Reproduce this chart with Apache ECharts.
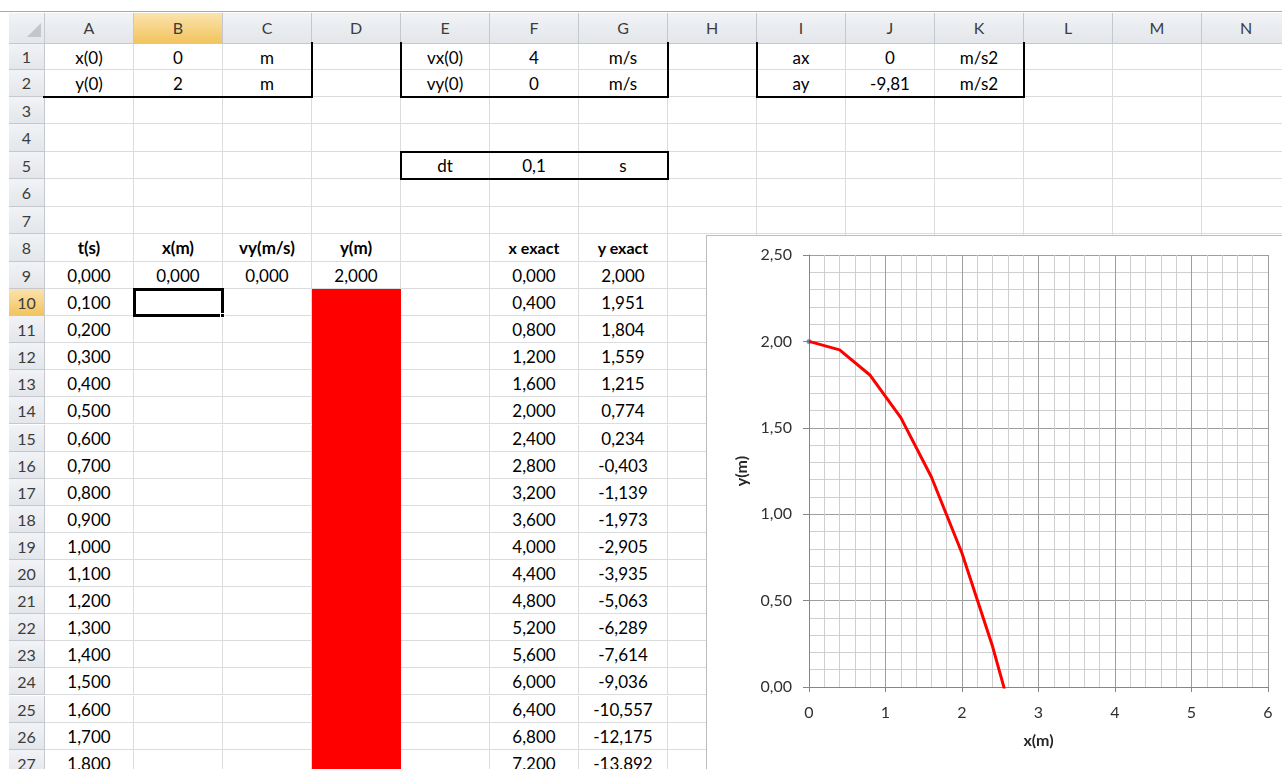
<!DOCTYPE html>
<html>
<head>
<meta charset="utf-8">
<script src="https://cdn.jsdelivr.net/npm/echarts@6/dist/echarts.min.js"></script>
<style>
  html, body { margin:0; padding:0; }
  body { width:1282px; height:769px; overflow:hidden; position:relative; background:#fff; font-family: Lato, "Open Sans", sans-serif; }
  .cell { position:absolute; box-sizing:border-box; border-right:1px solid #dadcdd; border-bottom:1px solid #dadcdd; text-align:center; color:#000; font-size:17px; white-space:nowrap; overflow:hidden; }
  .hdr { position:absolute; box-sizing:border-box; background:linear-gradient(#f1f3f6,#e3e6ea); border-right:1px solid #c5c9cf; border-bottom:1px solid #c5c9cf; text-align:center; color:#3c3c3c; font-size:16px; }
  .sel { background:linear-gradient(#fbe3ac,#f2c45f) !important; }
  .box { position:absolute; box-sizing:border-box; border:0 solid #000; }
  #chart { position:absolute; left:706px; top:235px; width:620px; height:580px; background:#fff; border:1px solid #bdbdbd; box-sizing:border-box; }
</style>
</head>
<body>
<div id="sheet"></div>
<div id="chart"></div>
<script>
// ---------- data ----------
const colLetters = ['A','B','C','D','E','F','G','H','I','J','K','L','M','N'];
const paramRow1 = ['x(0)', '0', 'm', '', 'vx(0)', '4', 'm/s', '', 'ax', '0', 'm/s2'];
const paramRow2 = ['y(0)', '2', 'm', '', 'vy(0)', '0', 'm/s', '', 'ay', '-9,81', 'm/s2'];
const dtRow = ['dt', '0,1', 's'];
const headerRow = ['t(s)', 'x(m)', 'vy(m/s)', 'y(m)', '', 'x exact', 'y exact'];
const tValues = [0.0, 0.1, 0.2, 0.3, 0.4, 0.5, 0.6, 0.7, 0.8, 0.9, 1.0, 1.1, 1.2, 1.3, 1.4, 1.5, 1.6, 1.7, 1.8];
const simX = [0.000];
const simVy = [0.000];
const simY = [2.000];
const xExact = [0.0, 0.4, 0.8, 1.2, 1.6, 2.0, 2.4, 2.8, 3.2, 3.6, 4.0, 4.4, 4.8, 5.2, 5.6, 6.0, 6.4, 6.8, 7.2];
const yExact = [2.000, 1.951, 1.804, 1.559, 1.215, 0.774, 0.234, -0.403, -1.139, -1.973, -2.905, -3.935, -5.063, -6.289, -7.614, -9.036, -10.557, -12.175, -13.892];
const xTicks = [0, 1, 2, 3, 4, 5, 6];
const yTicks = [0, 0.5, 1.0, 1.5, 2.0, 2.5];

// ---------- sheet ----------
const sheet = document.getElementById('sheet');
const COLW = 89, X0 = 45, Y0 = 43.5, HDR_TOP = 13;
const colLeft = c => X0 + COLW * c;
const rowTop = r => r <= 3 ? Y0 + (r - 1) * 26.75 : (r <= 10 ? 97 + (r - 3) * 27.43 : 289 + (r - 10) * 27.1);
const rowH = r => rowTop(r + 1) - rowTop(r);
const fmt3 = v => v.toFixed(3).replace('.', ',');
function el(cls, style, text) {
  const d = document.createElement('div');
  d.className = cls;
  Object.assign(d.style, style);
  if (text !== undefined) d.textContent = text;
  sheet.appendChild(d);
  return d;
}
el('box', {left:'0px', top:'11px', width:'1282px', height:'1px', background:'#a9a9a9'});
el('hdr', {left:'9px', top:HDR_TOP+'px', width:(X0-9)+'px', height:(Y0-HDR_TOP)+'px'});
el('box', {left:'27px', top:'23px', width:'0px', height:'0px', borderLeft:'14px solid transparent', borderBottom:'14px solid #c3c6cb'});
colLetters.forEach((L, c) => {
  el('hdr' + (L === 'B' ? ' sel' : ''), {left:colLeft(c)+'px', top:HDR_TOP+'px', width:COLW+'px', height:(Y0-HDR_TOP)+'px', lineHeight:(Y0-HDR_TOP)+'px'}, L);
});
const cellText = {};
function setCell(r, c, t, extra) { cellText[r + '_' + c] = {t, extra}; }
paramRow1.forEach((t, c) => setCell(1, c, t));
paramRow2.forEach((t, c) => setCell(2, c, t));
dtRow.forEach((t, i) => setCell(5, 4 + i, t));
headerRow.forEach((t, c) => setCell(8, c, t, {fontWeight:'bold', fontSize: c >= 5 ? '16px' : '17px'}));
tValues.forEach((t, i) => {
  const r = 9 + i;
  setCell(r, 0, fmt3(t));
  if (i < simX.length) setCell(r, 1, fmt3(simX[i]));
  if (i < simVy.length) setCell(r, 2, fmt3(simVy[i]));
  if (i < simY.length) setCell(r, 3, fmt3(simY[i]));
  setCell(r, 5, fmt3(xExact[i]));
  setCell(r, 6, fmt3(yExact[i]));
});
for (let r = 1; r <= 28; r++) {
  const top = rowTop(r), h = rowH(r);
  el('hdr' + (r === 10 ? ' sel' : ''), {left:'9px', top:top+'px', width:(X0-9)+'px', height:h+'px', lineHeight:h+'px'}, String(r));
  for (let c = 0; c < colLetters.length; c++) {
    const info = cellText[r + '_' + c];
    const st = {left:colLeft(c)+'px', top:top+'px', width:COLW+'px', height:h+'px', lineHeight:(h+1)+'px'};
    const d = el('cell', st, info ? info.t : '');
    if (info && info.extra) Object.assign(d.style, info.extra);
  }
}
// red fill D10:D..
el('box', {left:colLeft(3)+'px', top:rowTop(10)+'px', width:COLW+'px', height:(769-rowTop(10))+'px', background:'#ff0000'});
// thick borders
const h12 = rowTop(3) - rowTop(1);
el('box', {left:(colLeft(0)-2)+'px', top:(rowTop(1)-2)+'px', width:(COLW*3+3)+'px', height:(h12+3)+'px', borderRightWidth:'2px', borderBottomWidth:'2px'});
el('box', {left:(colLeft(4)-1)+'px', top:(rowTop(1)-2)+'px', width:(COLW*3+2)+'px', height:(h12+3)+'px', borderLeftWidth:'2px', borderRightWidth:'2px', borderBottomWidth:'2px'});
el('box', {left:(colLeft(8)-1)+'px', top:(rowTop(1)-2)+'px', width:(COLW*3+2)+'px', height:(h12+3)+'px', borderLeftWidth:'2px', borderRightWidth:'2px', borderBottomWidth:'2px'});
el('box', {left:(colLeft(4)-1)+'px', top:(rowTop(5)-1)+'px', width:(COLW*3+2)+'px', height:(rowH(5)+2)+'px', borderWidth:'2px'});
// selected cell B10
el('box', {left:(colLeft(1)-1)+'px', top:(rowTop(10)-1)+'px', width:(COLW+2)+'px', height:(rowH(10)+2)+'px', borderWidth:'3px'});
el('box', {left:(colLeft(2)-3)+'px', top:(rowTop(11)-3)+'px', width:'5px', height:'5px', background:'#000', border:'1px solid #fff'});

// ---------- chart ----------
const chart = echarts.init(document.getElementById('chart'), null, {renderer:'canvas'});
const commaFmt = v => v.toFixed(2).replace('.', ',');
chart.setOption({
  animation: false,
  backgroundColor: '#fff',
  grid: { left: 102, top: 19, width: 459, height: 432, containLabel: false },
  xAxis: {
    type: 'value', min: xTicks[0], max: xTicks[xTicks.length - 1], interval: 1,
    name: 'x(m)', nameLocation: 'middle', nameGap: 46,
    nameTextStyle: { fontFamily: 'Lato', fontWeight: 'bold', fontSize: 16, color: '#262626' },
    axisLine: { show: true, onZero: false, lineStyle: { color: '#868686', width: 1 } },
    axisTick: { show: true, length: 5, lineStyle: { color: '#868686' } },
    axisLabel: { margin: 18, fontFamily: 'Lato', fontSize: 16, color: '#303030', formatter: v => String(v) },
    splitLine: { show: true, lineStyle: { color: '#9e9e9e', width: 1 } },
    minorTick: { show: false, splitNumber: 5 },
    minorSplitLine: { show: true, lineStyle: { color: '#cfcfcf', width: 1 } }
  },
  yAxis: {
    type: 'value', min: yTicks[0], max: yTicks[yTicks.length - 1], interval: 0.5,
    name: 'y(m)', nameLocation: 'middle', nameGap: 56,
    nameTextStyle: { fontFamily: 'Lato', fontWeight: 'bold', fontSize: 16, color: '#262626' },
    axisLine: { show: true, onZero: false, lineStyle: { color: '#868686', width: 1 } },
    axisTick: { show: true, length: 6, lineStyle: { color: '#868686' } },
    axisLabel: { margin: 17, fontFamily: 'Lato', fontSize: 16, color: '#303030', formatter: commaFmt },
    splitLine: { show: true, lineStyle: { color: '#9e9e9e', width: 1 } },
    minorTick: { show: false, splitNumber: 5 },
    minorSplitLine: { show: true, lineStyle: { color: '#cfcfcf', width: 1 } }
  },
  series: [
    {
      name: 'y exact', type: 'line', clip: true, showSymbol: false,
      data: xExact.map((x, i) => [x, yExact[i]]),
      lineStyle: { color: '#ff0000', width: 3 }, itemStyle: { color: '#ff0000' }
    },
    {
      name: 'y(m)', type: 'scatter', symbolSize: 5,
      data: simX.map((x, i) => [x, simY[i]]),
      itemStyle: { color: '#4a7ebb' }
    }
  ]
});
</script>
</body>
</html>
